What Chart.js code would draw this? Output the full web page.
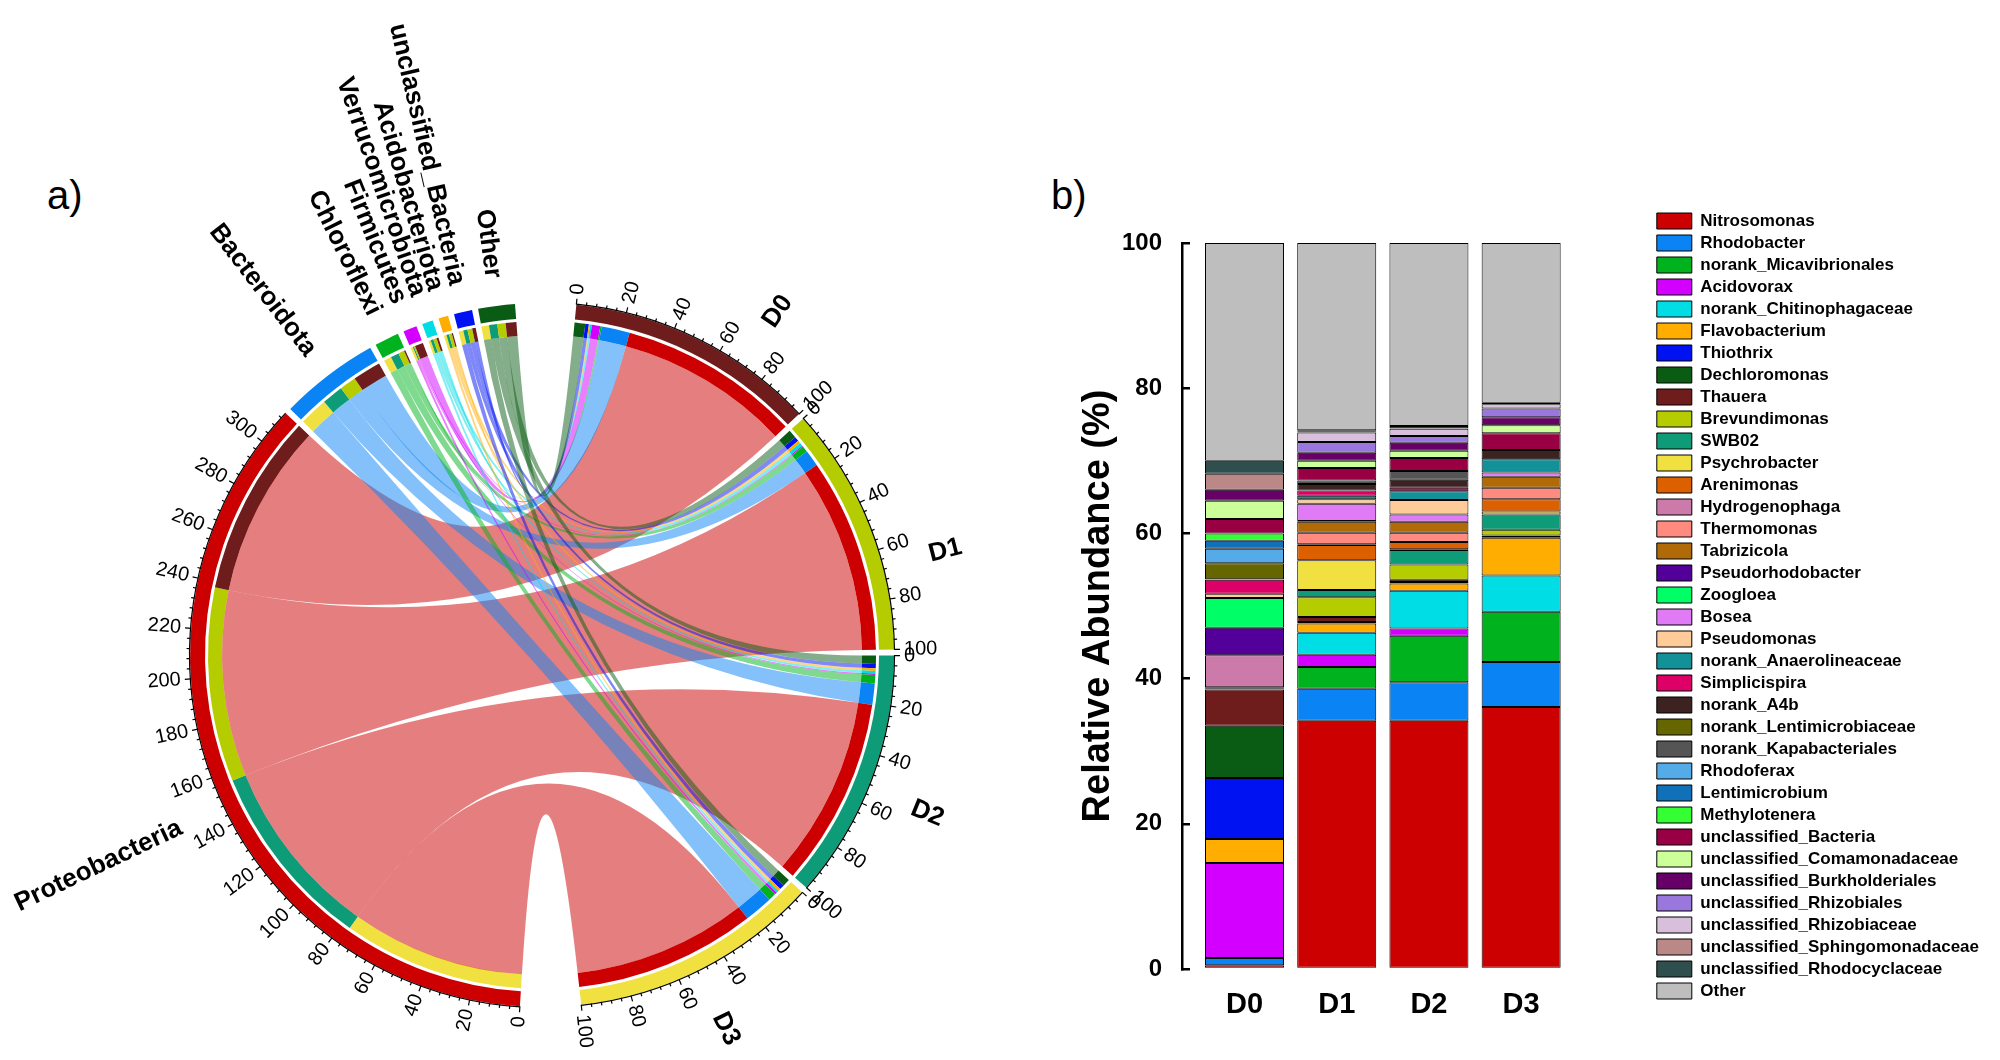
<!DOCTYPE html>
<html>
<head>
<meta charset="utf-8">
<script src="https://cdn.jsdelivr.net/npm/chart.js@4.4.1/dist/chart.umd.min.js"></script>
<style>
  body { margin: 0; background: #fff; width: 2000px; height: 1060px; position: relative; overflow: hidden; font-family: "Liberation Sans", Arial, sans-serif; }
  .panel { position: absolute; font-size: 40px; line-height: 40px; color: #000; }
  #chordBox { position: absolute; left: 0; top: 0; width: 1000px; height: 1060px; }
  #barBox { position: absolute; left: 1000px; top: 0; width: 1000px; height: 1060px; }
</style>
</head>
<body>
<div class="panel" style="left:47px; top:175px">a)</div>
<div class="panel" style="left:1051px; top:175px">b)</div>
<div id="chordBox"><canvas id="chordChart"></canvas></div>
<div id="barBox"><canvas id="barChart"></canvas></div>
<script>
const FONT = '"Liberation Sans", Arial, sans-serif';
Chart.defaults.font.family = FONT;
Chart.defaults.color = '#000';

// ---- a) phylum share (%) in each sample ----
const phyla = ['Proteobacteria', 'Bacteroidota', 'Chloroflexi', 'Firmicutes', 'Verrucomicrobiota', 'Acidobacteriota', 'unclassified_Bacteria', 'Other'];
const samples = ['D0', 'D1', 'D2', 'D3'];
const phylaD0 = [76.7, 11.9, 0.6, 3.5, 0.8, 0.5, 1.5, 4.5];
const phylaD1 = [81.9, 7.0, 2.5, 0.5, 1.4, 1.2, 2.0, 3.5];
const phylaD2 = [79.4, 9.0, 3.5, 0.5, 1.2, 1.1, 1.8, 3.5];
const phylaD3 = [76.5, 12.0, 3.2, 1.0, 1.0, 1.1, 2.0, 3.2];
const phylaColors = ['#CC0000', '#0A84F5', '#00B31E', '#D400FF', '#00DDE5', '#FFAD00', '#0012F2', '#0A5C14'];
const sampleColors = ['#6E1C1C', '#B5CC00', '#0E9C78', '#F0E040'];

// ---- b) genus relative abundance (%) ----
const genera = ['Nitrosomonas', 'Rhodobacter', 'norank_Micavibrionales', 'Acidovorax', 'norank_Chitinophagaceae',
  'Flavobacterium', 'Thiothrix', 'Dechloromonas', 'Thauera', 'Brevundimonas', 'SWB02', 'Psychrobacter',
  'Arenimonas', 'Hydrogenophaga', 'Thermomonas', 'Tabrizicola', 'Pseudorhodobacter', 'Zoogloea', 'Bosea',
  'Pseudomonas', 'norank_Anaerolineaceae', 'Simplicispira', 'norank_A4b', 'norank_Lentimicrobiaceae',
  'norank_Kapabacteriales', 'Rhodoferax', 'Lentimicrobium', 'Methylotenera', 'unclassified_Bacteria',
  'unclassified_Comamonadaceae', 'unclassified_Burkholderiales', 'unclassified_Rhizobiales',
  'unclassified_Rhizobiaceae', 'unclassified_Sphingomonadaceae', 'unclassified_Rhodocyclaceae', 'Other'];
const generaD0 = [0.5, 1.0, 0, 13.1, 0, 3.3, 8.4, 7.2, 5.0, 0.1, 0.1, 0, 0.1, 4.4, 0, 0, 3.8, 4.1, 0, 0.6, 0, 1.9, 0.1, 2.2, 0, 2.0, 1.1, 1.0, 2.0, 2.5, 1.5, 0, 0, 2.2, 1.8, 30.0];
const generaD1 = [34.2, 4.4, 3.0, 1.7, 3.0, 1.3, 0, 0.2, 0.7, 2.7, 1.0, 4.1, 2.1, 0.1, 1.6, 1.5, 0.1, 0, 2.4, 0.6, 0.5, 0.7, 0.9, 0, 0.5, 0, 0, 0, 1.7, 1.0, 1.1, 1.5, 1.3, 0.1, 0.2, 25.8];
const generaD2 = [34.2, 5.3, 6.4, 1.0, 5.2, 1.0, 0, 0.2, 0.3, 2.1, 2.0, 0.1, 1.0, 0, 1.3, 1.5, 0, 0, 1.0, 2.0, 1.2, 0.5, 1.1, 0, 1.2, 0, 0, 0, 1.8, 1.0, 1.1, 0.9, 1.0, 0.1, 0.3, 25.2];
const generaD3 = [36.1, 6.2, 6.9, 0, 5.0, 5.2, 0, 0.1, 0.2, 0.8, 2.1, 0.4, 1.7, 0, 1.6, 1.5, 0, 0, 0.6, 0, 1.8, 0, 1.3, 0, 0, 0, 0, 0, 2.3, 1.1, 1.1, 1.2, 0.6, 0, 0.2, 22.0];
const generaColors = ['#CC0000', '#0A84F5', '#00B31E', '#D400FF', '#00DDE5', '#FFAD00', '#0012F2', '#0A5C14',
  '#6E1C1C', '#B5CC00', '#0E9C78', '#F0E040', '#DD6000', '#CC7AAA', '#FF8A80', '#B06A08', '#520099',
  '#00FF66', '#E07AF5', '#FFCC99', '#139199', '#DD0066', '#3D2222', '#666600', '#555555', '#55AAE8',
  '#1070B8', '#33FF33', '#990044', '#CCFF99', '#660066', '#9977DD', '#D8C0DC', '#BB8888', '#2F4F4F', '#BEBEBE'];

function withAlpha(hex, a) {
  const n = parseInt(hex.slice(1), 16);
  return `rgba(${n >> 16}, ${(n >> 8) & 255}, ${n & 255}, ${a})`;
}
const sum = arr => arr.reduce((a, b) => a + b, 0);

// ---------- chord diagram built on a doughnut ----------
const phylaBySample = [phylaD0, phylaD1, phylaD2, phylaD3];
const sampleTotals = phylaBySample.map(sum);
const phylumTotals = phyla.map((p, i) => sum(phylaBySample.map(s => s[i])));

const gapDeg = 1, bigGapDeg = 10, startDeg = 5.6;
const unitDeg = (360 - gapDeg * (phyla.length + samples.length - 2) - 2 * bigGapDeg) / (sum(sampleTotals) + sum(phylumTotals));
const gap = gapDeg / unitDeg, bigGap = bigGapDeg / unitDeg;
const clear = 'rgba(0,0,0,0)';
// where along its sector each name sits (0 = start, 1 = end)
const sampleNameAt = [0.70, 0.67, 0.54, 0.52];
const phylumNameAt = [0.47, 0.5, 0.5, 0.5, 0.5, 0.5, 0.5, 0.5];

// sectors clockwise from the top: samples, then phyla
const sectors = [];
samples.forEach((s, j) => sectors.push({ name: s, total: sampleTotals[j], color: sampleColors[j], nameAt: sampleNameAt[j], after: j < samples.length - 1 ? gap : bigGap }));
phyla.forEach((p, i) => sectors.push({ name: p, total: phylumTotals[i], color: phylaColors[i], nameAt: phylumNameAt[i], after: i < phyla.length - 1 ? gap : bigGap }));

const outerData = [], outerColors = [], sectorArc = [];
sectors.forEach(sec => {
  sectorArc.push(outerData.length);
  outerData.push(sec.total); outerColors.push(sec.color);
  outerData.push(sec.after); outerColors.push(clear);
});

// inner track holds the link ends
const innerData = [], innerColors = [], sampleEnd = {}, phylumEnd = {};
samples.forEach((s, j) => {
  for (let i = phyla.length - 1; i >= 0; i--) {
    sampleEnd[j + '_' + i] = innerData.length;
    innerData.push(phylaBySample[j][i]); innerColors.push(phylaColors[i]);
  }
  innerData.push(j < samples.length - 1 ? gap : bigGap); innerColors.push(clear);
});
phyla.forEach((p, i) => {
  for (let j = samples.length - 1; j >= 0; j--) {
    phylumEnd[j + '_' + i] = innerData.length;
    innerData.push(phylaBySample[j][i]); innerColors.push(sampleColors[j]);
  }
  innerData.push(i < phyla.length - 1 ? gap : bigGap); innerColors.push(clear);
});

const ribbonPlugin = {
  id: 'ribbons',
  afterDatasetsDraw(chart) {
    const arcs = chart.getDatasetMeta(2).data;
    const ctx = chart.ctx;
    ctx.save();
    phyla.forEach((p, i) => {
      samples.forEach((s, j) => {
        const a = arcs[phylumEnd[j + '_' + i]];
        const b = arcs[sampleEnd[j + '_' + i]];
        const cx = a.x, cy = a.y, r = a.innerRadius;
        ctx.beginPath();
        ctx.arc(cx, cy, r, a.startAngle, a.endAngle);
        ctx.quadraticCurveTo(cx, cy, cx + r * Math.cos(b.startAngle), cy + r * Math.sin(b.startAngle));
        ctx.arc(cx, cy, r, b.startAngle, b.endAngle);
        ctx.quadraticCurveTo(cx, cy, cx + r * Math.cos(a.startAngle), cy + r * Math.sin(a.startAngle));
        ctx.closePath();
        ctx.fillStyle = withAlpha(phylaColors[i], 0.5);
        ctx.fill();
      });
    });
    ctx.restore();
  }
};

// text running along the radius, turned so it always reads left to right
function radialText(ctx, text, cx, cy, ang, r, font) {
  const clockDeg = (((ang + Math.PI / 2) * 180 / Math.PI) % 360 + 360) % 360;
  ctx.save();
  ctx.translate(cx, cy);
  ctx.font = font;
  ctx.fillStyle = '#000';
  ctx.textBaseline = 'middle';
  if (clockDeg < 180) {
    ctx.rotate(ang); ctx.textAlign = 'left'; ctx.fillText(text, r, 0);
  } else {
    ctx.rotate(ang + Math.PI); ctx.textAlign = 'right'; ctx.fillText(text, -r, 0);
  }
  ctx.restore();
}

const sectorAxisPlugin = {
  id: 'sectorAxis',
  afterDatasetsDraw(chart) {
    const arcs = chart.getDatasetMeta(0).data;
    const ctx = chart.ctx;
    sectors.forEach((sec, k) => {
      const arc = arcs[sectorArc[k]];
      const cx = arc.x, cy = arc.y, r0 = arc.outerRadius;
      const perUnit = (arc.endAngle - arc.startAngle) / sec.total;
      const hasAxis = sec.total >= 50;
      if (hasAxis) {
        ctx.save();
        ctx.strokeStyle = '#000';
        ctx.lineWidth = 1.2;
        ctx.beginPath();
        ctx.arc(cx, cy, r0 + 0.5, arc.startAngle, arc.endAngle);
        ctx.stroke();
        for (let v = 0; v <= sec.total + 1e-6; v += 4) {
          const ang = arc.startAngle + v * perUnit;
          const major = v % 20 === 0;
          const len = major ? 6 : 3.5;
          ctx.beginPath();
          ctx.moveTo(cx + r0 * Math.cos(ang), cy + r0 * Math.sin(ang));
          ctx.lineTo(cx + (r0 + len) * Math.cos(ang), cy + (r0 + len) * Math.sin(ang));
          ctx.stroke();
          if (major) radialText(ctx, String(v), cx, cy, ang, r0 + 10, '20px ' + FONT);
        }
        ctx.restore();
      }
      const at = arc.startAngle + sec.nameAt * (arc.endAngle - arc.startAngle);
      radialText(ctx, sec.name, cx, cy, at, r0 + (hasAxis ? 48 : 28), 'bold 26px ' + FONT);
    });
  }
};

new Chart(document.getElementById('chordChart'), {
  type: 'doughnut',
  data: {
    datasets: [
      { data: outerData, backgroundColor: outerColors, weight: 15 },
      { data: outerData, backgroundColor: clear, weight: 3 },
      { data: innerData, backgroundColor: innerColors, weight: 14 }
    ]
  },
  options: {
    responsive: true,
    maintainAspectRatio: false,
    animation: false,
    events: [],
    rotation: startDeg,
    cutout: 320,
    spacing: 0,
    elements: { arc: { borderWidth: 0, hoverBorderWidth: 0, offset: 0, hoverOffset: 0 } },
    layout: { padding: { left: 190, top: 303, right: 106, bottom: 53 } },
    plugins: { legend: { display: false }, tooltip: { enabled: false } }
  },
  plugins: [ribbonPlugin, sectorAxisPlugin]
});

// ---------- stacked bars ----------
const generaBySample = [generaD0, generaD1, generaD2, generaD3];
const barDatasets = genera.map((g, i) => ({
  label: g,
  data: generaBySample.map((s, j) => ({ x: j, y: s[i] })),
  backgroundColor: generaColors[i],
  borderColor: '#000',
  borderWidth: 1,
  borderSkipped: false,
  barPercentage: 0.857,
  categoryPercentage: 1
}));

new Chart(document.getElementById('barChart'), {
  type: 'bar',
  data: { datasets: barDatasets },
  options: {
    responsive: true,
    maintainAspectRatio: false,
    animation: false,
    events: [],
    layout: { padding: { left: 76, top: 207.5, right: 11, bottom: 18.2 } },
    scales: {
      x: {
        type: 'linear',
        stacked: true,
        offset: false,
        min: -0.678,
        max: 4.417,
        afterBuildTicks(scale) { scale.ticks = samples.map((s, j) => ({ value: j })); },
        ticks: { callback: v => samples[v], padding: 19, autoSkip: false, maxRotation: 0, color: '#000', font: { size: 29, weight: 'bold' } },
        grid: { display: false, drawTicks: false },
        border: { display: false }
      },
      y: {
        stacked: true,
        min: 0,
        max: 100,
        ticks: { stepSize: 20, padding: 28, color: '#000', font: { size: 24, weight: 'bold' } },
        grid: { drawOnChartArea: false, tickLength: -8, lineWidth: 2.5, color: '#000' },
        border: { color: '#000', width: 2.5 },
        title: { display: true, text: 'Relative Abundance (%)', padding: 0, color: '#000', font: { size: 38, weight: 'bold' } },
        afterFit(scale) { scale.width = 106; }
      }
    },
    plugins: {
      tooltip: { enabled: false },
      // empty title only keeps the plot below the top of the legend
      title: { display: true, text: '', fullSize: false, padding: { top: 23.5, bottom: 0 }, font: { size: 10 } },
      legend: {
        position: 'right',
        align: 'start',
        maxWidth: 400,
        labels: { boxWidth: 35, boxHeight: 16, padding: 5, color: '#000', font: { size: 17, weight: 'bold' } }
      }
    }
  }
});
</script>
</body>
</html>
